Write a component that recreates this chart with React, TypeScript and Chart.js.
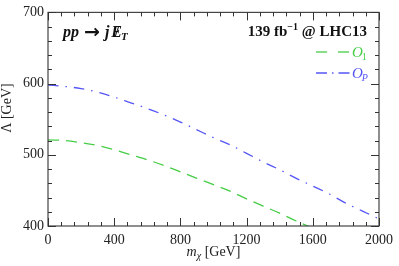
import React, { useEffect, useRef } from "react";
import { Chart, registerables } from "chart.js";

Chart.register(...registerables);

const massGeV = [0, 100, 200, 300, 400, 500, 600, 700, 800, 900, 1000, 1100, 1200, 1300, 1400, 1500, 1600, 1700, 1800, 1900, 2000];
const lambdaO1 = [521, 520, 517, 513, 507, 500, 493, 485, 476, 467, 458, 449, 438, 428, 418, 407, 397];
const lambdaOP = [598, 596, 593, 588, 581, 573, 565, 556, 546, 535, 524, 514, 502, 490, 479, 467, 456, 445, 432, 421, 410];

const xTicks = [0, 400, 800, 1200, 1600, 2000];
const yTicks = [400, 500, 600, 700];

const GREEN = "rgb(70,205,70)";
const BLUE = "rgb(85,85,245)";
const FONT = "'Liberation Serif', 'DejaVu Serif', serif";

const overlay = {
  id: "overlay",
  afterDraw(chart: any) {
    const { ctx, chartArea, scales } = chart;
    const { left, right, top, bottom } = chartArea;
    const xs = scales.x;
    const ys = scales.y;
    ctx.save();
    ctx.setTransform(1, 0, 0, 1, 0, 0);
    // frame
    ctx.strokeStyle = "#444";
    ctx.lineWidth = 1.2;
    ctx.setLineDash([]);
    ctx.strokeRect(left, top, right - left, bottom - top);
    // inward ticks
    const seg = (x1: number, y1: number, x2: number, y2: number) => {
      ctx.beginPath();
      ctx.moveTo(x1, y1);
      ctx.lineTo(x2, y2);
      ctx.stroke();
    };
    ctx.strokeStyle = "#333";
    ctx.lineWidth = 1;
    for (let v = 0; v <= 2000; v += 80) {
      const px = Math.round(xs.getPixelForValue(v)) + 0.5;
      const len = v % 400 === 0 ? 8 : 4;
      seg(px, bottom, px, bottom - len);
      seg(px, top, px, top + len);
    }
    for (let v = 400; v <= 700; v += 20) {
      const py = Math.round(ys.getPixelForValue(v)) + 0.5;
      const len = v % 100 === 0 ? 8 : 4;
      seg(left, py, left + len, py);
      seg(right, py, right - len, py);
    }

    ctx.fillStyle = "#111";
    ctx.textBaseline = "alphabetic";
    ctx.textAlign = "left";
    // process label
    let cx = 63;
    const by = 37;
    ctx.font = `bold italic 16px ${FONT}`;
    ctx.fillText("pp", cx, by);
    cx += ctx.measureText("pp").width + 5;
    ctx.font = `bold 19px 'DejaVu Sans', sans-serif`;
    ctx.fillText("\u2192", cx, by + 1);
    cx += ctx.measureText("\u2192").width + 5;
    ctx.font = `bold italic 16px ${FONT}`;
    ctx.fillText("j", cx, by);
    cx += ctx.measureText("j").width + 2;
    ctx.fillText("E", cx, by);
    const ew = ctx.measureText("E").width;
    ctx.font = `bold 15px ${FONT}`;
    ctx.fillText("/", cx + ew * 0.35, by - 1);
    cx += ew;
    ctx.font = `bold italic 11px ${FONT}`;
    ctx.fillText("T", cx - 1, by + 3);

    // luminosity label (right aligned)
    const rx = 367;
    const ly = 36;
    ctx.font = `bold 15px ${FONT}`;
    const p1 = "139 fb";
    const p3 = " @ LHC13";
    const w1 = ctx.measureText(p1).width;
    const w3 = ctx.measureText(p3).width;
    ctx.font = `bold 10px ${FONT}`;
    const p2 = "\u22121";
    const w2 = ctx.measureText(p2).width;
    let sx = rx - (w1 + w2 + w3);
    ctx.font = `bold 15px ${FONT}`;
    ctx.fillText(p1, sx, ly);
    sx += w1;
    ctx.font = `bold 10px ${FONT}`;
    ctx.fillText(p2, sx, ly - 6);
    sx += w2;
    ctx.font = `bold 15px ${FONT}`;
    ctx.fillText(p3, sx, ly);

    // legend
    const drawLegend = (yy: number, color: string, dash: number[], sub: string, subItalic: boolean) => {
      ctx.strokeStyle = color;
      ctx.lineWidth = 1.3;
      ctx.setLineDash(dash);
      seg(316, yy, 350, yy);
      ctx.setLineDash([]);
      ctx.fillStyle = color;
      ctx.font = `italic 15px ${FONT}`;
      ctx.fillText("O", 352, yy + 5);
      const ow = ctx.measureText("O").width;
      ctx.font = `${subItalic ? "italic " : ""}10px ${FONT}`;
      ctx.fillText(sub, 352 + ow - 1, yy + 8);
    };
    drawLegend(52, GREEN, [11, 11], "1", false);
    drawLegend(73, BLUE, [11, 5, 1.5, 5], "P", true);

    // axis titles
    ctx.fillStyle = "#222";
    // x title
    ctx.font = `italic 14px ${FONT}`;
    const mW = ctx.measureText("m").width;
    ctx.font = `italic 10px ${FONT}`;
    const chiW = ctx.measureText("\u03c7").width;
    ctx.font = `14px ${FONT}`;
    const gW = ctx.measureText(" [GeV]").width;
    const xc = (left + right) / 2;
    let tx = xc - (mW + chiW + gW) / 2;
    const ty = 256;
    ctx.font = `italic 14px ${FONT}`;
    ctx.fillText("m", tx, ty);
    tx += mW;
    ctx.font = `italic 10px ${FONT}`;
    ctx.fillText("\u03c7", tx, ty + 3);
    tx += chiW;
    ctx.font = `14px ${FONT}`;
    ctx.fillText(" [GeV]", tx, ty);
    // y title
    ctx.save();
    ctx.translate(11, 108);
    ctx.rotate(-Math.PI / 2);
    ctx.textAlign = "center";
    ctx.font = `14px ${FONT}`;
    ctx.fillText("\u039b [GeV]", 0, 0);
    ctx.restore();

    ctx.restore();
  },
};

export default function App() {
  const ref = useRef<HTMLCanvasElement | null>(null);
  useEffect(() => {
    if (!ref.current) return;
    const chart = new Chart(ref.current, {
      type: "line",
      data: {
        datasets: [
          {
            label: "O1",
            data: lambdaO1.map((v, i) => ({ x: massGeV[i], y: v })),
            borderColor: GREEN,
            borderWidth: 1.3,
            borderDash: [11, 7],
            pointRadius: 0,
            tension: 0.4,
            cubicInterpolationMode: "monotone",
            fill: false,
          },
          {
            label: "OP",
            data: lambdaOP.map((v, i) => ({ x: massGeV[i], y: v })),
            borderColor: BLUE,
            borderWidth: 1.3,
            borderDash: [10.5, 7, 1.5, 7],
            pointRadius: 0,
            tension: 0.4,
            cubicInterpolationMode: "monotone",
            fill: false,
          },
        ],
      },
      options: {
        animation: false,
        responsive: false,
        devicePixelRatio: 1,
        layout: { padding: { top: 10, right: 16, left: 0, bottom: 0 } },
        plugins: { legend: { display: false }, tooltip: { enabled: false } },
        scales: {
          x: {
            type: "linear",
            min: 0,
            max: 2000,
            afterFit: (s: any) => {
              s.height = 40;
            },
            afterBuildTicks: (s: any) => {
              s.ticks = xTicks.map((v) => ({ value: v }));
            },
            grid: { display: false, drawTicks: false },
            border: { display: false },
            ticks: {
              padding: 6,
              maxRotation: 0,
              color: "#222",
              font: { family: FONT, size: 14 },
              callback: (v: any) => String(v),
            },
          },
          y: {
            type: "linear",
            min: 400,
            max: 700,
            afterFit: (s: any) => {
              s.width = 48;
            },
            afterBuildTicks: (s: any) => {
              s.ticks = yTicks.map((v) => ({ value: v }));
            },
            grid: { display: false, drawTicks: false },
            border: { display: false },
            ticks: {
              padding: 4,
              color: "#222",
              font: { family: FONT, size: 14 },
              callback: (v: any) => String(v),
            },
          },
        },
      },
      plugins: [overlay],
    });
    return () => chart.destroy();
  }, []);
  return (
    <div style={{ position: "fixed", left: 0, top: 0, width: 399, height: 266, background: "#fff" }}>
      <canvas ref={ref} width={399} height={266} />
    </div>
  );
}
